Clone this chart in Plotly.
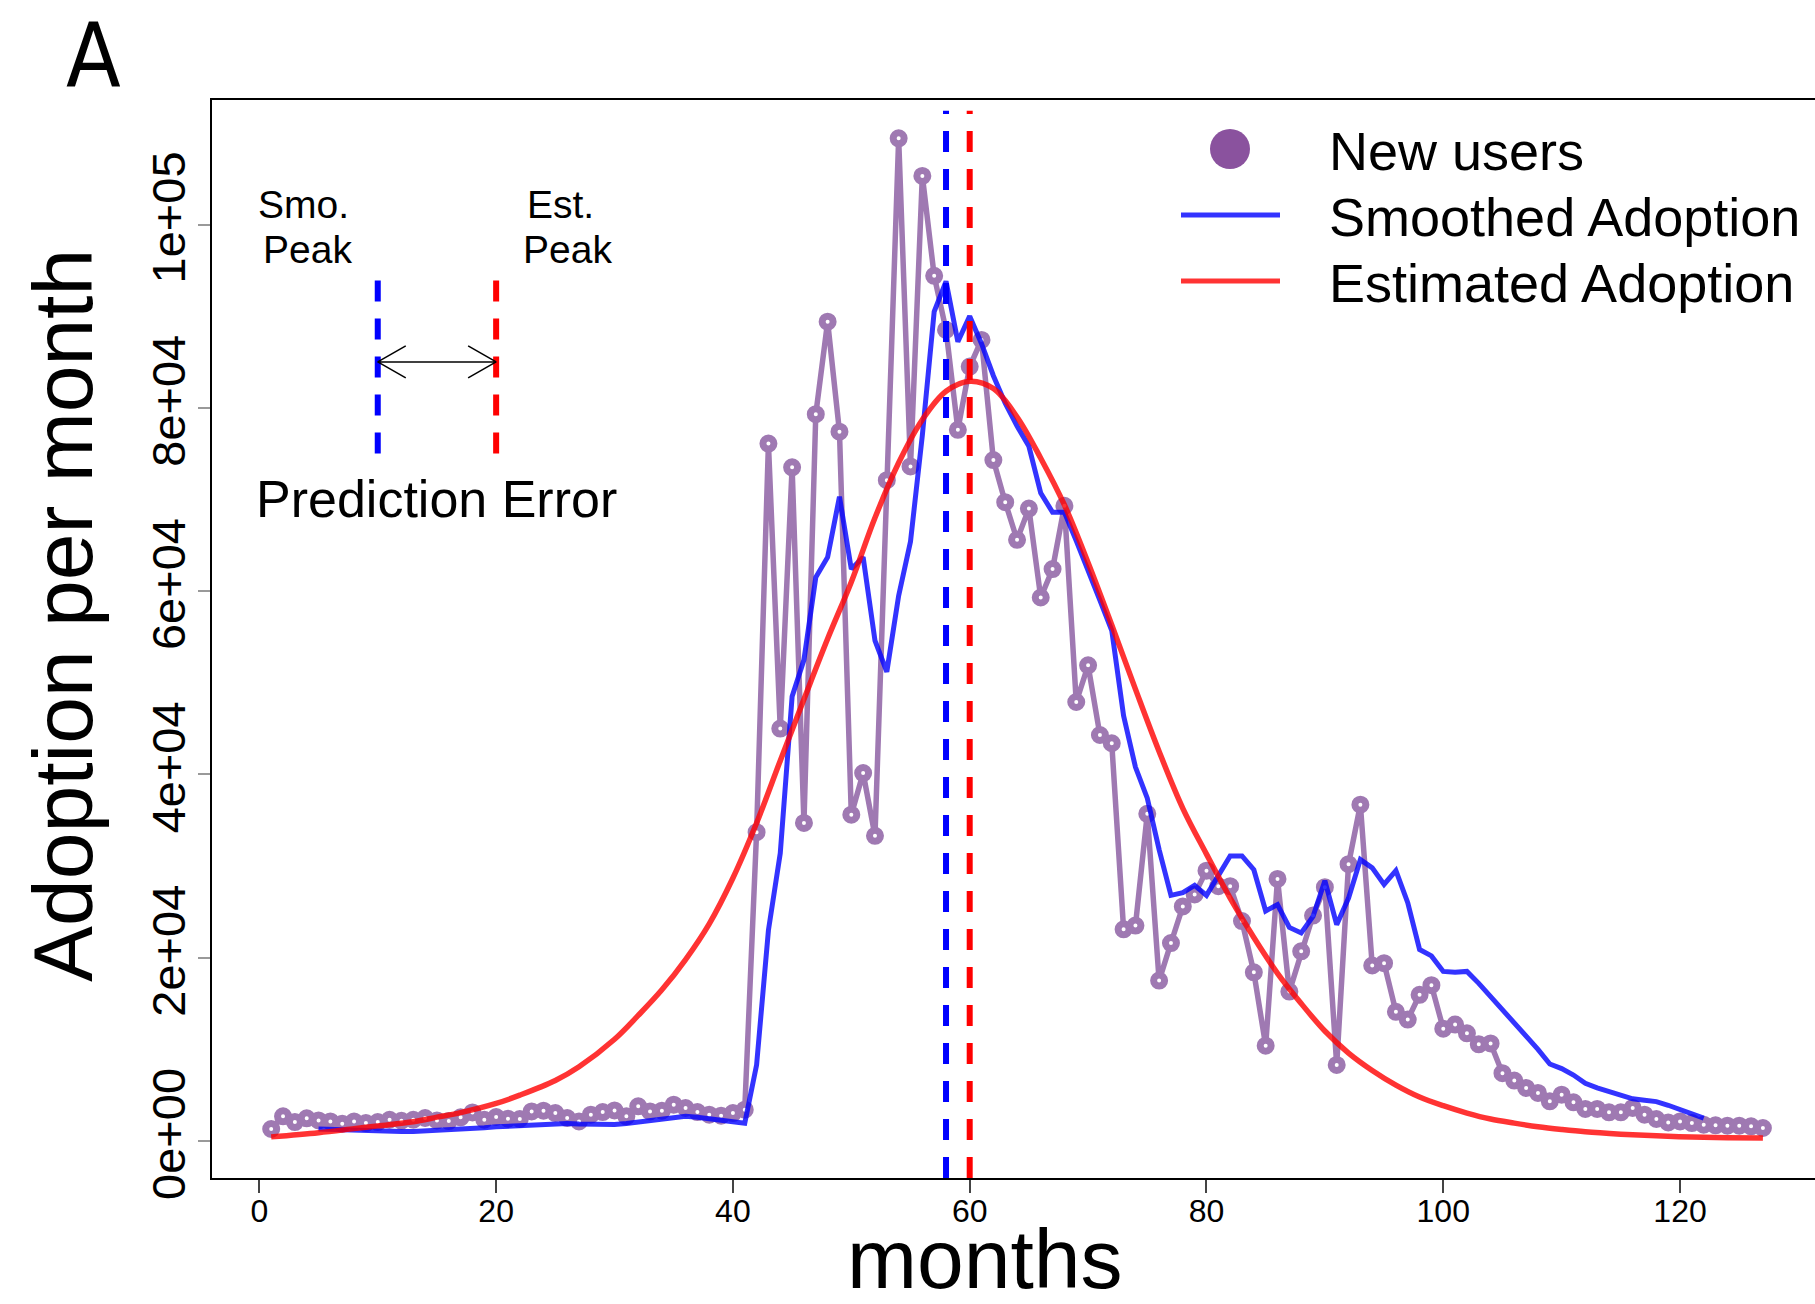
import plotly.graph_objects as go

# ---------------- data ----------------
months = list(range(1, 128))
new_users = [
    1310, 2690, 2070, 2470, 2250, 2140, 1890, 2140, 1960, 2070,
    2320, 2210, 2320, 2510, 2250, 2180, 2580, 3120, 2320, 2620,
    2430, 2400, 3230, 3310, 3050, 2510, 2140, 2870, 3160, 3340,
    2690, 3780, 3230, 3310, 3960, 3600, 3160, 2870, 2760, 3050,
    3420, 33700, 76100, 45000, 73500, 34700, 79300, 89400, 77400, 35600,
    40150, 33300, 72100, 109400, 73600, 105300, 94400, 88500, 77600, 84500,
    87400, 74300, 69700, 65600, 69000, 59300, 62400, 69300, 47900, 51900,
    44300, 43400, 23100, 23500, 35700, 17500, 21600, 25600, 26900, 29500,
    27800, 27800, 24000, 18400, 10400, 28600, 16300, 20700, 24600, 27700,
    8300, 30200, 36700, 19150, 19400, 14100, 13250, 15950, 17000, 12250,
    12700, 11750, 10550, 10650, 7400, 6590, 5790, 5240, 4330, 5060,
    4220, 3500, 3500, 3130, 3130, 3610, 2870, 2400, 2030, 2140,
    1960, 1780, 1710, 1670, 1670, 1600, 1420,
]

smooth_months = list(range(5, 123))
smoothed = [
    1300, 1250, 1200, 1150, 1100, 1050, 1050, 1050, 1050, 1100,
    1150, 1200, 1300, 1400, 1450, 1550, 1600, 1650, 1750, 1850,
    1900, 1900, 1850, 1800, 1800, 1800, 1900, 2050, 2200, 2400,
    2550, 2700, 2600, 2400, 2250, 2100, 1950,
    8300, 23000, 31400, 48500, 52500, 61500, 63700, 70300, 62400, 63700,
    54600, 51200, 59500, 65400, 77000, 90500, 93800, 87200, 90000, 87000,
    83500, 80500, 78000, 75800, 70700, 68600, 68600,
    65500, 62100, 59000, 55700, 46400, 40800, 37400, 31800, 26800, 27100,
    27900, 26800, 29000, 31100, 31100, 29600, 25100, 25800, 23300, 22700,
    24500, 28400, 23600, 26500, 30700, 29800, 28000, 29500, 26000, 20900,
    20200, 18500, 18400, 18500, 17200, 15800, 14400, 12900, 11500, 10000,
    8400, 7900, 7200, 6300, 5800, 5400, 4900, 4600, 4450, 4300,
    3900, 3400, 3000, 2500,
]

est_months = [1, 5, 8, 10, 13, 15, 17, 20, 22, 25, 27, 30, 32, 34, 36, 38, 40, 42,
              44, 46, 48, 50, 52, 54, 56, 58, 60, 62, 64, 66, 68, 70, 72, 74, 76,
              78, 80, 82, 84, 86, 88, 90, 92, 94, 96, 98, 100, 102, 104, 106, 108,
              110, 112, 115, 118, 121, 124, 127]
estimated = [450, 900, 1350, 1650, 2100, 2600, 3100, 4100, 5000, 6600, 8100, 11100,
             13700, 16500, 19800, 23700, 28700, 34700, 41500, 48200, 54800, 61000,
             68000, 74000, 78700, 81800, 82900, 82100, 79000, 74500, 69400, 63100,
             56300, 49300, 42500, 36300, 31300, 26500, 22200, 18300, 15000, 12000,
             9600, 7700, 6100, 4800, 3850, 3050, 2400, 1950, 1550, 1250, 1000, 750,
             560, 430, 360, 320]

x_ticks = [0, 20, 40, 60, 80, 100, 120]
y_ticks = [0, 20000, 40000, 60000, 80000, 100000]
y_tick_labels = ["0e+00", "2e+04", "4e+04", "6e+04", "8e+04", "1e+05"]

smo_peak = 58
est_peak = 60
legend_labels = ["New users", "Smoothed Adoption", "Estimated Adoption"]

# inset schematic (in data units)
inset_smo_x, inset_est_x = 10, 20
inset_y0, inset_y1, inset_arrow_y = 75000, 94000, 85000

# ---------------- layout constants ----------------
W, H = 1815, 1304
L, R, T, B = 212, 0, 100, 126
FONT = "Liberation Sans, Arial, Helvetica, sans-serif"
PURPLE = "#9F79B2"
PURPLE_SOLID = "#8A529E"
BLUE = "rgba(0,0,255,0.8)"
RED = "rgba(255,0,0,0.8)"


def px_x(p):
    return (p - L) / (W - L - R)


def px_y(p):
    return (H - B - p) / (H - T - B)


fig = go.Figure()

fig.add_trace(go.Scatter(
    x=months, y=new_users, mode="lines+markers", name=legend_labels[0],
    line=dict(color=PURPLE, width=5.5),
    marker=dict(symbol="circle", size=11, color="white",
                line=dict(color=PURPLE, width=7)),
    showlegend=False,
))
fig.add_trace(go.Scatter(
    x=smooth_months, y=smoothed, mode="lines", name=legend_labels[1],
    line=dict(color=BLUE, width=5), showlegend=False,
))
fig.add_trace(go.Scatter(
    x=est_months, y=estimated, mode="lines", name=legend_labels[2],
    line=dict(color=RED, width=5.5, shape="spline", smoothing=1.0), showlegend=False,
))

shapes = []
dash = "21px,17px"
# peak lines
shapes.append(dict(type="line", xref="x", yref="paper", x0=smo_peak, x1=smo_peak,
                   y0=0, y1=0.99, line=dict(color="#0000FF", width=6, dash=dash)))
shapes.append(dict(type="line", xref="x", yref="paper", x0=est_peak, x1=est_peak,
                   y0=0, y1=0.99, line=dict(color="#FF0000", width=6, dash=dash)))
# inset dashed segments
shapes.append(dict(type="line", xref="x", yref="y", x0=inset_smo_x, x1=inset_smo_x,
                   y0=inset_y0, y1=inset_y1, line=dict(color="#0000FF", width=6, dash=dash)))
shapes.append(dict(type="line", xref="x", yref="y", x0=inset_est_x, x1=inset_est_x,
                   y0=inset_y0, y1=inset_y1, line=dict(color="#FF0000", width=6, dash=dash)))
# double arrow
shapes.append(dict(type="line", xref="x", yref="y", x0=inset_smo_x, x1=inset_est_x,
                   y0=inset_arrow_y, y1=inset_arrow_y, line=dict(color="black", width=1.5)))
for xa, sgn in [(inset_smo_x, 1), (inset_est_x, -1)]:
    for dy in (16, -16):
        shapes.append(dict(type="line", xref="x", yref="y",
                           xsizemode="pixel", xanchor=xa, x0=0, x1=sgn * 28,
                           ysizemode="pixel", yanchor=inset_arrow_y, y0=0, y1=dy,
                           line=dict(color="black", width=1.5)))

# custom legend
row_y = [149, 215, 281]
shapes.append(dict(type="circle", xref="paper", yref="paper",
                   x0=px_x(1210), x1=px_x(1250), y0=px_y(row_y[0] + 20), y1=px_y(row_y[0] - 20),
                   fillcolor=PURPLE_SOLID, line=dict(width=0)))
shapes.append(dict(type="line", xref="paper", yref="paper", x0=px_x(1181), x1=px_x(1280),
                   y0=px_y(row_y[1]), y1=px_y(row_y[1]), line=dict(color=BLUE, width=5)))
shapes.append(dict(type="line", xref="paper", yref="paper", x0=px_x(1181), x1=px_x(1280),
                   y0=px_y(row_y[2]), y1=px_y(row_y[2]), line=dict(color=RED, width=5)))

annotations = []


def ann(text, x, y, size, xanchor="center", yanchor="middle", angle=0, family=FONT):
    annotations.append(dict(text=text, x=px_x(x), y=px_y(y), xref="paper", yref="paper",
                            xanchor=xanchor, yanchor=yanchor, showarrow=False,
                            textangle=angle, font=dict(family=family, size=size, color="black")))


for lbl, ry in zip(legend_labels, row_y):
    ann(lbl, 1327, ry + 2, 54, xanchor="left")

ann("A", 64, 56, 89, xanchor="left",
    family="Liberation Sans Narrow, DejaVu Sans Condensed, Liberation Sans, sans-serif")
ann("months", 984, 1259, 84)
ann("Adoption per month", 63, 616, 84, angle=-90)
ann("Smo.", 303, 204, 39)
ann("Peak", 307, 250, 39)
ann("Est.", 560, 204, 39)
ann("Peak", 567, 250, 39)
ann("Prediction Error", 436, 499, 52)

fig.update_layout(
    width=W, height=H, margin=dict(l=L, r=R, t=T, b=B, autoexpand=False),
    paper_bgcolor="white", plot_bgcolor="white", template="none",
    font=dict(family=FONT, color="black"),
    shapes=shapes, annotations=annotations, showlegend=False,
    xaxis=dict(range=[-4.0, 131.4], tickmode="array", tickvals=x_ticks,
               ticks="outside", ticklen=13, tickwidth=2, tickcolor="#444",
               showline=True, linecolor="black", linewidth=2, mirror=True,
               showgrid=False, zeroline=False, automargin=False,
               ticklabelstandoff=-9,
               tickfont=dict(size=32, family=FONT, color="black")),
    yaxis=dict(range=[-4037, 113584], tickmode="array", tickvals=y_ticks,
               ticktext=y_tick_labels, tickangle=-90,
               ticks="outside", ticklen=12, tickwidth=2, tickcolor="#999",
               showline=True, linecolor="black", linewidth=2, mirror=False,
               showgrid=False, zeroline=False, automargin=False,
               ticklabelstandoff=-6,
               tickfont=dict(size=47, family=FONT, color="black")),
)

fig.write_html(
    "out.html",
    config={"displayModeBar": False},
    post_script="document.body.style.margin='0px';document.body.style.overflow='hidden';",
)
